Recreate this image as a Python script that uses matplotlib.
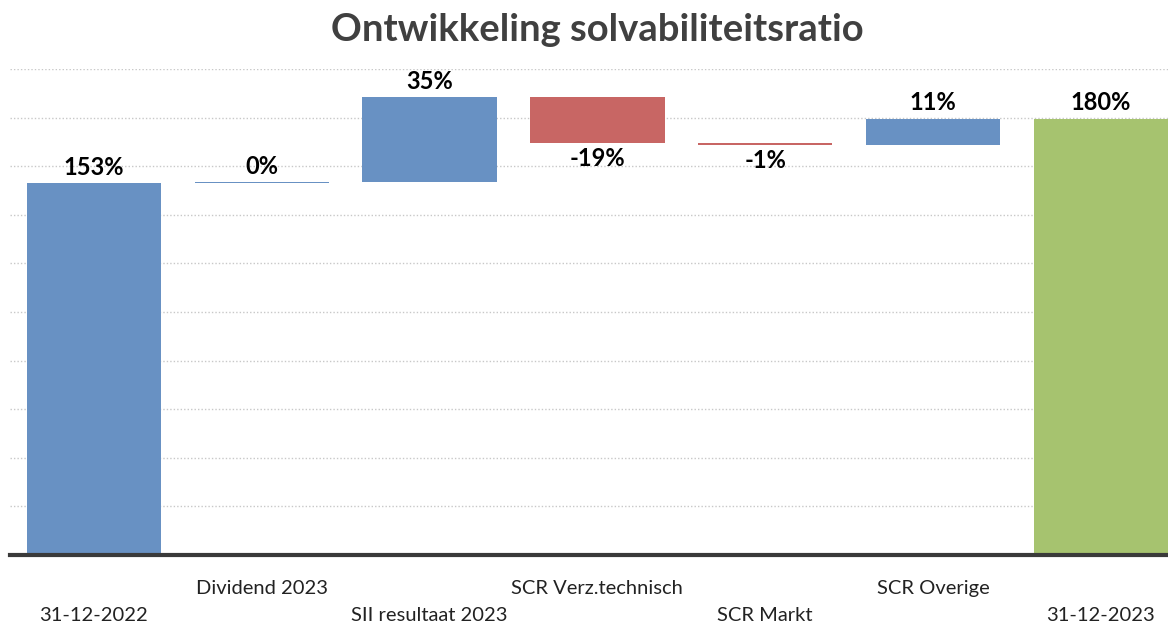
import numpy as np
import matplotlib.pyplot as plt

# data
categories = ["31-12-2022", "Dividend 2023", "SII resultaat 2023", "SCR Verz.technisch",
              "SCR Markt", "SCR Overige", "31-12-2023"]
start_value = 153.2
changes = [0.4, 34.9, -18.8, -0.8, 10.7]

blue = "#6891C3"
red = "#C86664"
green = "#A6C36F"

plt.rcParams['font.family'] = ['Lato', 'DejaVu Sans']

fig = plt.figure(figsize=(11.68, 6.27), dpi=100)
ax = fig.add_axes([10 / 1168, (627 - 555) / 627, 1 - 10 / 1168, (555 - 69) / 627])

x = np.arange(len(categories))
w = 0.8
end_value = start_value + sum(changes)

# start bar
ax.bar(x[0], start_value, width=w, color=blue, zorder=3)
ax.annotate(f"{start_value:.0f}%", (x[0], start_value), xytext=(0, 3), textcoords="offset points",
            ha="center", va="bottom", fontsize=17, fontweight="bold", zorder=4)

level = start_value
for i, ch in enumerate(changes):
    xi = x[i + 1]
    col = blue if ch >= 0 else red
    ax.bar(xi, ch, bottom=level, width=w, color=col, zorder=3)
    if ch >= 0:
        ax.annotate(f"{ch:.0f}%", (xi, level + ch), xytext=(0, 3), textcoords="offset points",
                    ha="center", va="bottom", fontsize=17, fontweight="bold", zorder=4)
    else:
        ax.annotate(f"{ch:.0f}%", (xi, level + ch), xytext=(0, -3), textcoords="offset points",
                    ha="center", va="top", fontsize=17, fontweight="bold", zorder=4)
    level += ch

# end bar
ax.bar(x[-1], end_value, width=w, color=green, zorder=3)
ax.annotate(f"{end_value:.0f}%", (x[-1], end_value), xytext=(0, 3), textcoords="offset points",
            ha="center", va="bottom", fontsize=17, fontweight="bold", zorder=4)

ax.set_xlim(-0.5, 6.4)
ax.set_ylim(0, 200)
ax.set_yticks(np.arange(20, 201, 20))
ax.yaxis.grid(True, linestyle=(0, (1, 1.5)), color="#c8c8c8", linewidth=1, zorder=0)
ax.tick_params(left=False, labelleft=False, bottom=False, labelbottom=False)
for s in ["top", "right", "left"]:
    ax.spines[s].set_visible(False)
ax.spines["bottom"].set_color("#3a3a3a")
ax.spines["bottom"].set_linewidth(3)
ax.spines["bottom"].set_zorder(5)

# staggered category labels
trans = ax.get_xaxis_transform()
for i, lab in enumerate(categories):
    yy = -0.1235 if i % 2 == 0 else -0.068
    ax.text(x[i], yy, lab, transform=trans, ha="center", va="center", fontsize=14.5, color="#222222")

fig.text(597 / 1168, 1 - 30 / 627, "Ontwikkeling solvabiliteitsratio", ha="center", va="center",
         fontsize=27.5, fontweight="bold", color="#404040")

fig.savefig("out.png", dpi=100)
